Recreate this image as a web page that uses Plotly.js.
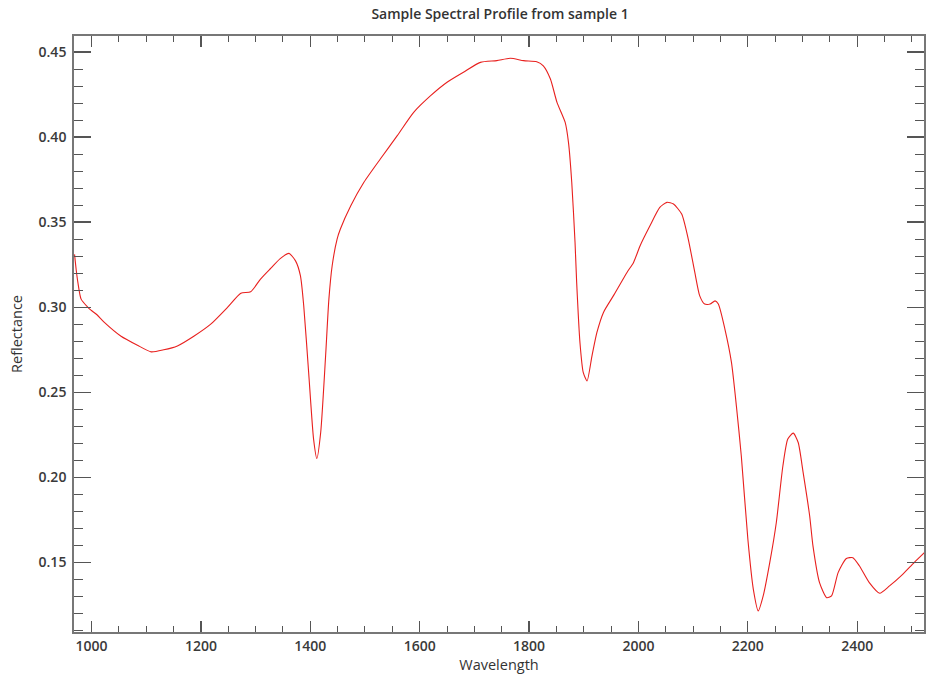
<!DOCTYPE html>
<html>
<head>
<meta charset="utf-8">
<script src="https://cdn.plot.ly/plotly-3.0.1.min.js"></script>
<style>html,body{margin:0;padding:0;background:#fff;}#chart{width:926px;height:675px;}</style>
</head>
<body>
<div id="chart"></div>
<script>
const wavelength = [969, 972, 975, 981, 993, 999, 1010, 1023, 1054, 1084, 1109, 1132, 1157, 1187, 1218, 1249, 1273, 1291, 1309, 1328, 1345, 1361, 1373, 1382, 1388, 1397, 1406, 1412, 1419, 1428, 1434, 1440, 1449, 1455, 1474, 1498, 1528, 1559, 1589, 1620, 1650, 1680, 1711, 1741, 1766, 1790, 1814, 1826, 1839, 1851, 1866, 1872, 1878, 1884, 1887, 1893, 1899, 1906, 1915, 1924, 1936, 1954, 1979, 1991, 2003, 2021, 2039, 2052, 2064, 2079, 2091, 2103, 2112, 2121, 2131, 2140, 2146, 2158, 2170, 2179, 2188, 2200, 2210, 2219, 2228, 2240, 2252, 2264, 2273, 2283, 2292, 2301, 2313, 2319, 2331, 2344, 2353, 2365, 2380, 2392, 2404, 2422, 2441, 2459, 2483, 2504, 2523];
const reflectance = [0.331, 0.322, 0.3147, 0.3047, 0.300, 0.2982, 0.2955, 0.2912, 0.2829, 0.2776, 0.2737, 0.2749, 0.2772, 0.2829, 0.2900, 0.3000, 0.3082, 0.3090, 0.3165, 0.3229, 0.3285, 0.3316, 0.3272, 0.3184, 0.3008, 0.2616, 0.2224, 0.2110, 0.2263, 0.2714, 0.3047, 0.3243, 0.3400, 0.3459, 0.3596, 0.3734, 0.3871, 0.4008, 0.4145, 0.4243, 0.4322, 0.4381, 0.4439, 0.4449, 0.4463, 0.4449, 0.4443, 0.4419, 0.4341, 0.4204, 0.4086, 0.3969, 0.3734, 0.3381, 0.3145, 0.2792, 0.2616, 0.2566, 0.2714, 0.2851, 0.2969, 0.3066, 0.3204, 0.3263, 0.3361, 0.3478, 0.3586, 0.3616, 0.3606, 0.3547, 0.3400, 0.3204, 0.3066, 0.3018, 0.3018, 0.3037, 0.3018, 0.2871, 0.2675, 0.2419, 0.2125, 0.1635, 0.1341, 0.1214, 0.1302, 0.1498, 0.1734, 0.2066, 0.2224, 0.2259, 0.2204, 0.2028, 0.1772, 0.1596, 0.1380, 0.1292, 0.1302, 0.1439, 0.1522, 0.1527, 0.1478, 0.1380, 0.1318, 0.1361, 0.1429, 0.1498, 0.1557];

const xTickVals = [1000, 1200, 1400, 1600, 1800, 2000, 2200, 2400];
const yTickVals = [0.15, 0.20, 0.25, 0.30, 0.35, 0.40, 0.45];

const tickFont = {family: 'Open Sans, DejaVu Sans, sans-serif', size: 14, color: '#3a3a3a', weight: 600};
const titleFont = {family: 'Open Sans, DejaVu Sans, sans-serif', size: 14, color: '#333', weight: 600};
const axTitleFont = {family: 'Open Sans, DejaVu Sans, sans-serif', size: 14.5, color: '#333'};

const trace = {
  x: wavelength,
  y: reflectance,
  type: 'scatter',
  mode: 'lines',
  line: {color: '#e8201e', width: 1.1, shape: 'spline', smoothing: 0.6},
  hoverinfo: 'x+y'
};

const layout = {
  width: 926,
  height: 675,
  margin: {l: 74, r: 2, t: 36, b: 43},
  paper_bgcolor: '#fff',
  plot_bgcolor: '#fff',
  showlegend: false,
  title: {text: 'Sample Spectral Profile from sample 1', font: titleFont, x: 0.54, xanchor: 'center', y: 0.979, yanchor: 'middle'},
  xaxis: {
    range: [968, 2522],
    tickvals: xTickVals,
    ticktext: xTickVals.map(String),
    ticks: 'inside', ticklen: 11, tickwidth: 1.2, tickcolor: '#555',
    minor: {dtick: 50, tick0: 1000, ticks: 'inside', ticklen: 6, tickwidth: 1, tickcolor: '#555', showgrid: false},
    showline: true, linecolor: '#777', linewidth: 1.8, mirror: 'allticks',
    showgrid: false, zeroline: false,
    tickfont: tickFont,
    automargin: false,
    title: {text: 'Wavelength', font: axTitleFont, standoff: 0}
  },
  yaxis: {
    range: [0.109, 0.4594],
    tickvals: yTickVals,
    ticktext: yTickVals.map(v => v.toFixed(2)),
    ticks: 'inside', ticklen: 17, tickwidth: 1.2, tickcolor: '#555',
    minor: {dtick: 0.01, tick0: 0.15, ticks: 'inside', ticklen: 9, tickwidth: 1, tickcolor: '#555', showgrid: false},
    showline: true, linecolor: '#777', linewidth: 1.8, mirror: 'allticks',
    showgrid: false, zeroline: false,
    tickfont: tickFont,
    ticklabelstandoff: 3,
    automargin: false,
    title: {text: 'Reflectance', font: axTitleFont, standoff: 12}
  }
};

Plotly.newPlot('chart', [trace], layout, {displayModeBar: false, staticPlot: true});
</script>
</body>
</html>
